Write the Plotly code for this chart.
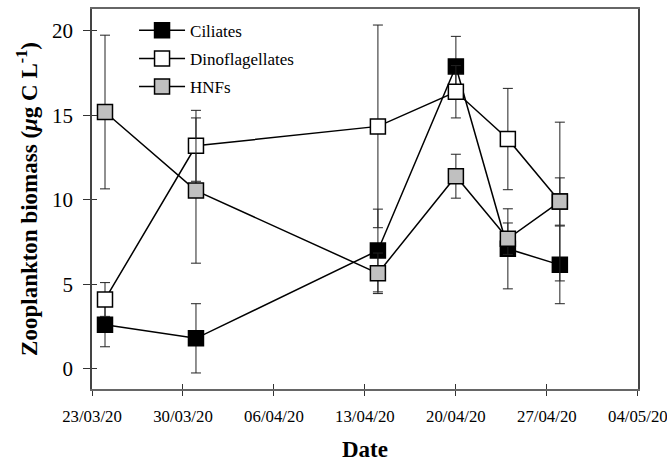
import plotly.graph_objects as go

dates = ['2020-03-24', '2020-03-31', '2020-04-14', '2020-04-20', '2020-04-24', '2020-04-28']
ciliates = [2.6, 1.8, 7.0, 17.9, 7.1, 6.15]
ciliates_err = [1.3, 2.05, 2.45, 1.78, 2.37, 2.3]
dino = [4.1, 13.2, 14.35, 16.4, 13.6, 9.9]
dino_err = [1.0, 2.1, 6.0, 1.55, 3.0, 1.4]
hnf = [15.2, 10.55, 5.65, 11.4, 7.7, 9.9]
hnf_err = [4.55, 4.3, 1.2, 1.3, 0.93, 4.7]

series = [
    ('Ciliates', ciliates, ciliates_err, 'black'),
    ('Dinoflagellates', dino, dino_err, 'white'),
    ('HNFs', hnf, hnf_err, '#c0c0c0'),
]

FONT = 'Liberation Serif'
fig = go.Figure()
for name, vals, err, col in series:
    fig.add_trace(go.Scatter(
        x=dates, y=vals, name=name, mode='lines+markers', legendgroup=name,
        line=dict(color='black', width=1.5),
        marker=dict(symbol='square', size=15, color=col,
                    line=dict(color='black', width=1.5)),
        error_y=dict(type='data', array=err, visible=True,
                     color='#222222', thickness=1, width=5),
    ))

# dummy trace to hold the overlay axes (inner tick marks)
fig.add_trace(go.Scatter(x=[dates[0]], y=[None], xaxis='x2', yaxis='y2',
                         showlegend=False, hoverinfo='skip'))

xr = ['2020-03-23', '2020-05-04 00:20']
yr = [-1.2, 21.3]
fig.update_layout(
    width=667, height=468,
    margin=dict(l=92, r=29, t=9, b=79),
    paper_bgcolor='white', plot_bgcolor='white',
    font=dict(family=FONT, color='black'),
    showlegend=True,
    legend=dict(x=0.077, y=0.99, xanchor='left', yanchor='top',
                bgcolor='rgba(0,0,0,0)', font=dict(size=17, family=FONT),
                traceorder='grouped', tracegroupgap=3, itemwidth=46),
    xaxis=dict(
        type='date', range=xr, tick0='2020-03-23', dtick=7 * 86400000,
        tickformat='%d/%m/%y', ticks='outside', ticklen=5, tickwidth=1,
        tickcolor='#333333', showline=True, linecolor='#666666', linewidth=2,
        mirror=True, showgrid=False, zeroline=False, automargin=False,
        tickfont=dict(size=16.8, family=FONT), ticklabeloverflow='allow',
        ticklabelstandoff=6,
        title=dict(text='<b>Date</b>', font=dict(size=23, family=FONT), standoff=16),
    ),
    yaxis=dict(
        range=yr, tickvals=[0, 5, 10, 15, 20], ticks='outside', ticklen=7,
        tickwidth=1, tickcolor='#333333', showline=True, linecolor='#444444',
        linewidth=1.5, mirror=True, showgrid=False, zeroline=False,
        automargin=False,
        tickfont=dict(size=21, family=FONT), ticklabelstandoff=6,
        title=dict(text='<b>Zooplankton biomass (<i>μ</i>g C L<sup>-1</sup>)</b>',
                   font=dict(size=23, family=FONT), standoff=8),
    ),
    xaxis2=dict(
        type='date', overlaying='x', matches='x', range=xr, tick0='2020-03-23',
        dtick=7 * 86400000, ticks='inside', ticklen=5, tickwidth=1,
        tickcolor='#333333', showticklabels=False, showgrid=False,
        zeroline=False, showline=False, side='bottom', automargin=False,
    ),
    yaxis2=dict(
        overlaying='y', matches='y', range=yr, tickvals=[0, 5, 10, 15, 20],
        ticks='inside', ticklen=5, tickwidth=1, tickcolor='#333333',
        showticklabels=False, showgrid=False, zeroline=False, showline=False,
        side='left', automargin=False,
    ),
)

fig.write_html('out.html')
